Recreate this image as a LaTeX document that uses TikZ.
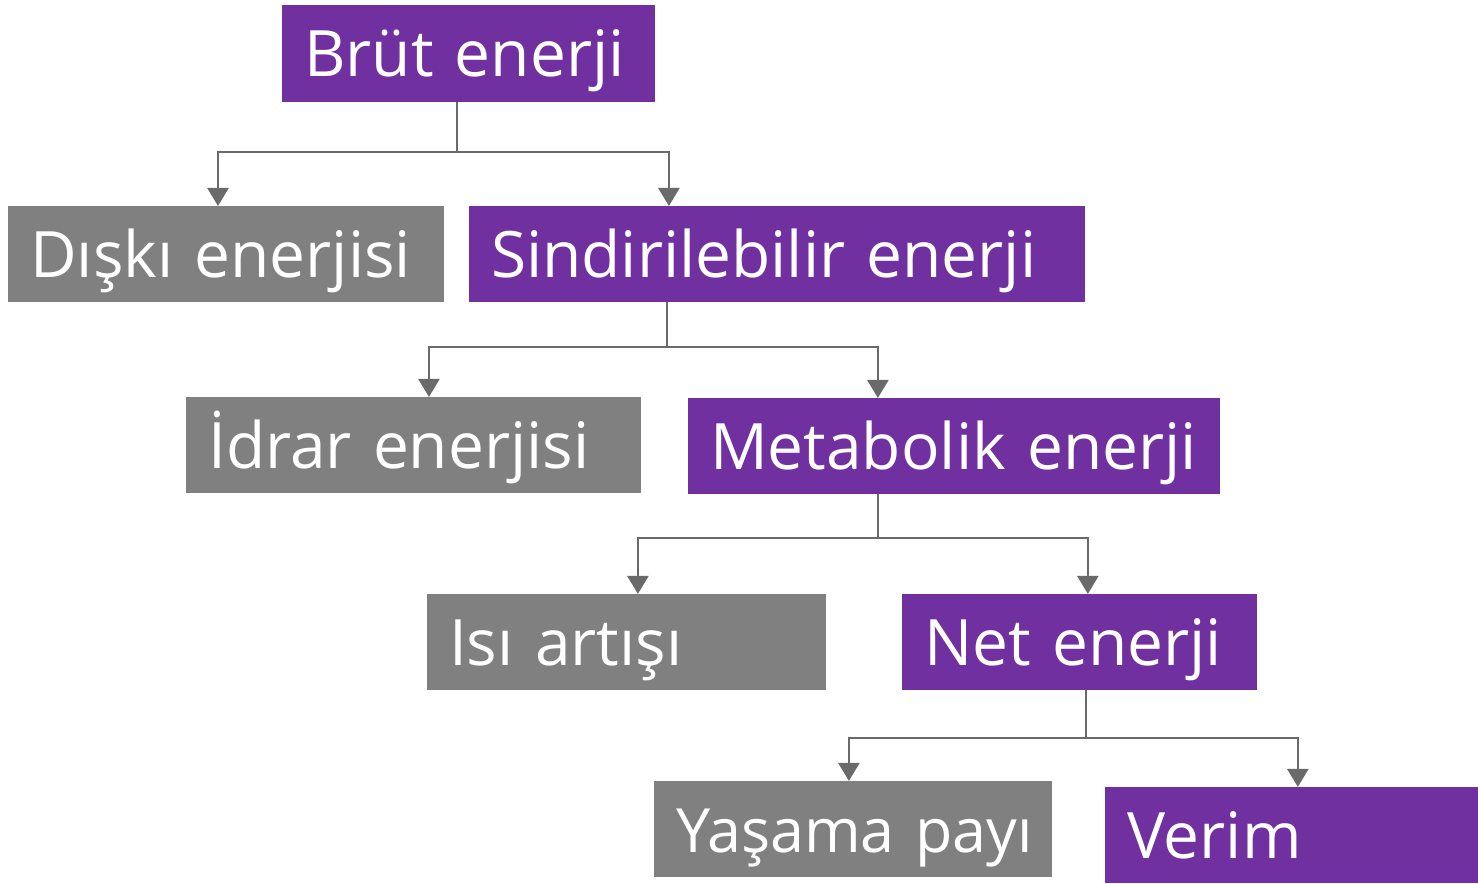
\documentclass[tikz,border=0pt]{standalone}
\usepackage{fontspec}
\setmainfont{Open Sans}
\usetikzlibrary{arrows.meta}
\definecolor{vpurple}{HTML}{7030A0}
\definecolor{vgray}{HTML}{808080}
\definecolor{vline}{HTML}{6A6A6A}
\tikzset{
  box/.style={anchor=north west, inner xsep=22pt, inner ysep=0pt, text=white,
    font=\fontsize{64}{70}\selectfont, text height=46pt, text depth=0pt, align=left},
  pbox/.style={box, fill=vpurple},
  gbox/.style={box, fill=vgray},
  conn/.style={draw=vline, line width=2.5pt},
  arr/.style={conn, -{Triangle[width=21pt,length=18pt]}}
}
\begin{document}
\begin{tikzpicture}[x=1pt,y=-1pt]
\fill[white] (0,0) rectangle (1478,883);
% boxes
\node[pbox, minimum width=373pt, minimum height=97pt, text width=329pt] (brut) at (282,5) {\mbox{Brüt enerji}};
\node[gbox, minimum width=436pt, minimum height=96pt, text width=392pt] (diski) at (8,206) {\mbox{Dışkı enerjisi}};
\node[pbox, minimum width=616pt, minimum height=96pt, text width=572pt] (sind) at (469,206) {\mbox{Sindirilebilir enerji}};
\node[gbox, minimum width=455pt, minimum height=96pt, text width=411pt] (idrar) at (186,397) {\mbox{İdrar enerjisi}};
\node[pbox, minimum width=532pt, minimum height=96pt, text width=488pt] (metab) at (688,398) {\mbox{Metabolik enerji}};
\node[gbox, minimum width=399pt, minimum height=96pt, text width=355pt] (isi) at (427,594) {\mbox{Isı artışı}};
\node[pbox, minimum width=355pt, minimum height=96pt, text width=311pt] (net) at (902,594) {\mbox{Net enerji}};
\node[gbox, minimum width=398pt, minimum height=96pt, text width=354pt, font=\fontsize{61}{70}\selectfont] (yasam) at (654,781) {\mbox{Yaşama payı}};
\node[pbox, minimum width=373pt, minimum height=96pt, text width=329pt] (verim) at (1105,787) {\mbox{Verim}};
% connectors
\coordinate (j1) at (457,152); \coordinate (l1) at (218,152); \coordinate (r1) at (669,152);
\draw[conn] (j1 |- brut.south) -- (j1);
\draw[arr] (j1) -- (l1) -- (l1 |- diski.north);
\draw[arr] (j1) -- (r1) -- (r1 |- sind.north);
\coordinate (j2) at (667,347); \coordinate (l2) at (429,347); \coordinate (r2) at (878,347);
\draw[conn] (j2 |- sind.south) -- (j2);
\draw[arr] (j2) -- (l2) -- (l2 |- idrar.north);
\draw[arr] (j2) -- (r2) -- (r2 |- metab.north);
\coordinate (j3) at (878,538); \coordinate (l3) at (638,538); \coordinate (r3) at (1088,538);
\draw[conn] (j3 |- metab.south) -- (j3);
\draw[arr] (j3) -- (l3) -- (l3 |- isi.north);
\draw[arr] (j3) -- (r3) -- (r3 |- net.north);
\coordinate (j4) at (1086,738); \coordinate (l4) at (849,738); \coordinate (r4) at (1298,738);
\draw[conn] (j4 |- net.south) -- (j4);
\draw[arr] (j4) -- (l4) -- (l4 |- yasam.north);
\draw[arr] (j4) -- (r4) -- (r4 |- verim.north);
\end{tikzpicture}
\end{document}
